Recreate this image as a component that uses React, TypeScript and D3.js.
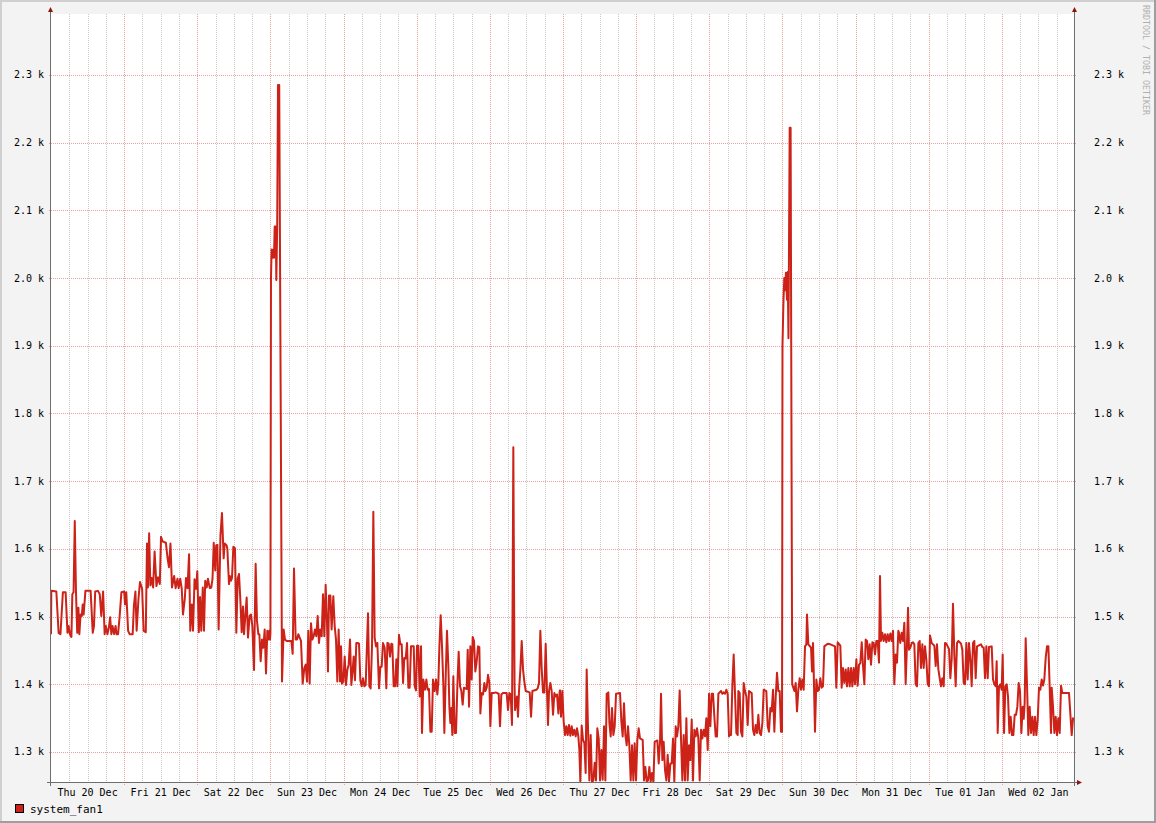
import React from 'react';
import * as d3 from 'd3';

const START = new Date(2018, 11, 20, 0, 0, 0);
const END = new Date(2019, 0, 3, 0, 0, 0);
const Y_MIN = 1254.2;
const Y_MAX = 2390;
const Y_TICKS = [1300, 1400, 1500, 1600, 1700, 1800, 1900, 2000, 2100, 2200, 2300];
const SERIES_NAME = 'system_fan1';
const WATERMARK = 'RRDTOOL / TOBI OETIKER';

// hours since Thu 20 Dec 00:00
const HOURS = [
  0, 0.1, 1.75, 2.5, 3.1, 3.9, 4.8, 5.4, 5.8, 6.2, 6.7, 7.0, 7.4, 7.8, 8.2, 8.6, 9.0, 9.3, 9.7, 10.1,
  10.4, 10.7, 11.3, 13.0, 13.7, 14.1, 14.5, 15.4, 16.0, 16.5, 17.1, 17.6, 18.0, 18.5, 19.0, 19.4, 19.8, 20.2, 20.7, 21.2,
  21.5, 22.0, 22.5, 23.1, 24.0, 24.3, 24.7, 25.3, 25.8, 26.8, 27.2, 27.7, 28.1, 28.7, 29.2, 29.9, 30.4, 31.1, 31.5, 31.8,
  32.2, 32.6, 33.0, 33.5, 34.0, 34.6, 35.1, 35.7, 36.1, 36.6, 37.7, 38.2, 38.7, 39.2, 39.7, 40.4, 40.9, 41.5, 41.9, 42.4,
  42.9, 43.3, 43.9, 44.3, 44.8, 45.3, 45.7, 46.2, 46.6, 47.1, 47.6, 48.0, 48.5, 48.9, 49.3, 49.8, 50.2, 50.6, 51.1, 51.5,
  52.1, 52.6, 53.0, 53.4, 53.9, 54.2, 54.6, 55.0, 55.6, 56.1,
  56.65, 56.98, 57.64, 57.86, 58.4, 58.7, 59.06, 59.39, 59.83, 60.37, 60.81, 61.25, 61.69, 62.12, 62.56, 63.0, 63.33, 63.76, 64.2, 64.64,
  65.19, 65.62, 66.06, 66.61, 67.15, 67.59, 68.03, 68.36, 68.8, 69.23, 69.67, 70.11, 70.55, 70.98, 71.31, 71.64, 71.86, 72.0, 72.19, 72.38,
  72.68, 72.94, 73.17, 73.4, 73.73, 73.93, 74.22, 74.49, 74.88, 75.8, 76.34, 76.78, 77.33, 78.86, 79.3, 79.73, 80.28, 80.72, 81.15, 81.59,
  82.03, 82.58, 83.12, 83.56, 84.0, 84.44, 84.87, 85.31, 85.75, 86.19, 86.62, 87.06, 87.5, 87.94, 88.37, 88.81, 89.25, 89.69, 90.12, 90.56,
  90.89, 91.22, 91.66, 92.09, 92.64, 93.08, 93.52, 93.95, 94.39, 94.83, 95.16, 95.49, 95.92, 96.36, 96.8, 97.23, 97.67, 98.11, 98.55, 98.98,
  99.31, 99.75, 100.19, 100.62, 101.06, 101.5, 101.94, 102.37, 102.81, 103.25, 104.01, 104.45, 104.89, 105.33, 105.77, 106.2, 106.64, 107.08, 107.63, 108.06,
  108.5, 108.94, 109.48, 110.03, 110.36, 110.8, 111.24,
  111.68, 112.0, 112.44, 112.88, 113.32, 113.65, 114.19, 114.63, 115.07, 115.51, 115.94, 116.38, 116.82, 117.26, 117.69, 118.13, 119.01, 119.33, 119.77, 120.1,
  120.54, 120.98, 121.41, 121.74, 122.18, 122.73, 123.16, 123.6, 124.04, 124.48, 124.91, 125.35, 125.9, 126.33, 126.77, 127.1, 127.43, 127.87, 128.3, 128.74,
  129.07, 129.51, 129.94, 130.38, 130.71, 131.04, 131.37, 131.69, 132.02, 132.46, 132.9, 133.34, 133.77, 134.21, 134.65, 135.09, 135.52, 136.4, 136.73, 137.16,
  137.6, 138.04, 138.37, 138.8, 139.24, 139.68, 140.12, 140.55, 140.88, 141.32, 141.76, 142.2, 142.52, 142.96, 143.4, 143.84, 144.17, 144.6, 145.26, 145.91,
  146.9, 147.34, 147.77, 148.21, 149.52, 149.96, 150.4, 150.84, 151.27, 151.7, 152.1, 152.26, 152.91, 153.24, 153.57, 154.01, 154.45, 154.88, 155.32, 155.76,
  157.07, 157.51, 157.95, 159.26, 159.7, 160.13, 160.57, 161.01, 161.45, 161.88, 162.32, 162.76, 163.09, 163.41, 163.85, 164.29, 164.73, 165.16, 165.6, 166.04,
  166.48, 166.91,
  167.02, 167.35, 167.79, 168.22, 168.66, 169.1, 169.54, 169.97, 170.41, 170.85, 171.29, 171.72, 172.16, 172.6, 173.04, 173.36, 173.69, 174.13, 174.57, 175.01,
  175.44, 175.77, 176.21, 176.65, 177.08, 177.52, 177.96, 178.4, 178.83, 179.27, 179.71, 180.15, 180.58, 181.02, 181.46, 181.9, 182.33, 182.88, 183.21, 183.65,
  184.08, 184.52, 184.96, 185.4, 186.71, 187.15, 187.58, 188.02, 188.46, 188.9, 189.33, 189.77, 190.21, 190.65, 191.08, 191.52, 191.96, 192.4, 192.83, 193.27,
  194.15, 194.58, 195.02, 195.46, 195.9, 196.33, 196.77, 197.21, 197.65, 198.08, 198.96, 199.4, 199.83, 200.16, 200.6, 201.04, 201.48, 201.91, 202.35, 202.79,
  203.23, 203.66, 204.1, 204.54, 204.98, 205.41, 205.85, 206.29, 206.73, 207.16, 207.6, 208.04, 208.48, 208.91, 209.35, 209.79, 210.23, 210.66, 211.1, 211.54,
  211.98, 212.41, 212.85, 213.29, 213.73, 214.16, 214.6, 215.04, 215.48, 215.91, 216.35, 216.79, 217.23, 217.66, 218.1, 218.54, 218.98, 219.41, 219.85, 220.29,
  220.73, 221.16, 221.6, 222.04, 222.48,
  222.69, 223.13, 223.57, 224.0, 224.44, 224.88, 225.32, 225.54, 225.97, 226.41, 226.85, 227.29, 227.72, 228.16, 228.6, 229.04, 229.91, 230.35, 230.79, 231.22,
  231.66, 232.1, 232.54, 232.97, 233.41, 233.85, 234.72, 235.16, 235.6, 236.04, 236.47, 236.91, 237.35, 237.79, 238.22, 238.66, 239.1, 239.54, 239.86, 240.02,
  240.35, 240.62, 240.91, 241.17, 241.5, 241.73, 241.99, 242.39, 242.68, 243.2, 243.57, 243.91, 244.35, 244.79, 245.22, 245.66, 246.1, 246.54, 246.97, 247.41,
  247.85, 248.07, 248.5, 249.38, 249.71, 250.04, 250.25, 250.69, 251.13, 251.57, 252.0, 252.44, 252.88, 253.32, 253.75, 254.85, 255.73, 257.25, 257.69, 258.13,
  259.0, 259.44, 259.88, 260.32, 260.76, 261.19, 261.63, 262.07, 262.51, 262.94, 263.38, 263.82, 264.26, 264.69, 265.13, 265.57, 266.01, 266.44, 266.88, 267.32,
  267.76, 268.19, 268.63, 269.07, 269.51, 269.94, 270.38, 270.82, 271.26, 271.69, 272.02, 272.35, 272.79, 273.22, 273.66, 274.1, 274.54, 274.97, 275.41, 275.85,
  276.29, 276.72, 277.16, 277.6, 278.04,
  278.25, 278.69, 279.13, 279.57, 280.0, 280.44, 280.88, 281.21, 281.53, 281.97, 282.41, 282.85, 283.28, 283.72, 284.16, 284.6, 285.03, 285.47, 285.91, 286.35,
  286.78, 287.22, 287.66, 288.1, 288.42, 288.97, 289.41, 289.85, 290.28, 290.72, 291.16, 291.6, 292.03, 292.47, 292.91, 293.35, 293.78, 294.22, 294.66, 295.1,
  295.53, 295.97, 296.41, 296.85, 297.28, 297.72, 298.16, 298.6, 299.03, 299.47, 299.91, 300.35, 300.78, 301.22, 301.66, 302.1, 302.53, 302.97, 303.41, 303.85,
  305.16, 305.6, 306.04, 306.47, 306.91, 307.35, 307.79, 308.66, 309.1, 309.54, 309.97, 310.3, 310.63, 311.07, 311.5, 311.94, 312.27, 312.71, 313.15, 313.58,
  314.02, 314.46, 314.9, 315.33, 315.77, 316.21, 316.65, 317.08, 317.52, 317.96, 318.4, 318.83, 319.16, 319.49, 319.82, 320.26, 320.69, 321.13, 321.57, 322.01,
  322.44, 322.88, 323.32, 323.76, 324.19, 324.63, 325.07, 325.51, 325.94, 326.38, 326.82, 327.26, 327.69, 328.13, 328.35, 328.79, 329.23, 329.66, 330.1, 330.54,
  330.98, 331.41, 331.85, 334.04, 334.47, 334.91, 335.35, 335.79, 336,
];

// fan speed (rpm)
const FAN_RPM = [
  1474, 1538, 1537, 1476, 1474, 1536, 1536, 1476, 1486, 1474, 1470, 1533, 1536, 1641, 1536, 1476, 1513, 1474, 1503, 1501,
  1518, 1503, 1538, 1538, 1476, 1486, 1537, 1538, 1533, 1501, 1537, 1474, 1486, 1474, 1484, 1499, 1474, 1486, 1474, 1486,
  1474, 1474, 1499, 1536, 1537, 1518, 1536, 1479, 1474, 1474, 1516, 1537, 1479, 1526, 1551, 1541, 1479, 1477, 1608, 1543,
  1623, 1546, 1557, 1543, 1596, 1545, 1558, 1548, 1618, 1611, 1609, 1588, 1573, 1608, 1543, 1560, 1542, 1556, 1542, 1556,
  1541, 1503, 1526, 1557, 1542, 1592, 1479, 1518, 1479, 1555, 1541, 1567, 1477, 1529, 1479, 1543, 1479, 1553, 1543, 1556,
  1542, 1543, 1556, 1609, 1568, 1605, 1606, 1481, 1620, 1653,
  1586, 1608, 1605, 1600, 1548, 1560, 1553, 1557, 1603, 1601, 1476, 1556, 1563, 1526, 1477, 1515, 1474, 1501, 1528, 1469,
  1501, 1503, 1486, 1421, 1578, 1494, 1474, 1474, 1434, 1466, 1454, 1481, 1416, 1479, 1466, 1479, 1466, 1476, 2000, 2042,
  2030, 2042, 2030, 2076, 2076, 1997, 2076, 2285, 2285, 1404, 1481, 1466, 1464, 1464, 1445, 1571, 1466, 1466, 1474, 1469,
  1464, 1401, 1424, 1429, 1404, 1479, 1401, 1490, 1466, 1471, 1481, 1471, 1501, 1461, 1481, 1471, 1533, 1471, 1547, 1491,
  1419, 1531, 1531, 1481, 1530, 1486, 1466, 1404, 1481, 1404, 1456, 1401, 1404, 1441, 1399, 1421, 1429, 1466, 1399, 1421,
  1441, 1406, 1461, 1461, 1460, 1406, 1397, 1409, 1397, 1399, 1505, 1397, 1394, 1456, 1655, 1469, 1456, 1461, 1394, 1426,
  1426, 1461, 1454, 1394, 1461, 1460, 1441,
  1460, 1459, 1397, 1397, 1437, 1397, 1473, 1459, 1459, 1402, 1439, 1438, 1461, 1395, 1395, 1456, 1456, 1397, 1391, 1457,
  1457, 1382, 1456, 1328, 1407, 1392, 1407, 1392, 1393, 1330, 1330, 1407, 1390, 1407, 1385, 1402, 1455, 1502, 1456, 1400,
  1328, 1412, 1479, 1427, 1367, 1343, 1365, 1325, 1412, 1328, 1328, 1397, 1448, 1397, 1390, 1370, 1395, 1393, 1451, 1367,
  1456, 1407, 1470, 1464, 1419, 1434, 1456, 1455, 1357, 1387, 1385, 1402, 1390, 1395, 1414, 1402, 1338, 1387, 1387, 1388,
  1386, 1338, 1385, 1387, 1387, 1362, 1387, 1385, 1340, 1750, 1400, 1362, 1382, 1352, 1390, 1422, 1464, 1422, 1404, 1390,
  1388, 1352, 1390, 1392, 1394, 1402, 1479, 1422, 1388, 1388, 1460, 1387, 1340, 1390, 1402, 1390, 1355, 1387, 1382, 1385,
  1357, 1390,
  1391, 1352, 1390, 1345, 1325, 1338, 1325, 1340, 1324, 1338, 1325, 1333, 1323, 1335, 1323, 1303, 1257, 1339, 1318, 1313,
  1269, 1422, 1333, 1258, 1325, 1256, 1258, 1284, 1258, 1335, 1320, 1258, 1303, 1259, 1338, 1258, 1386, 1388, 1343, 1323,
  1365, 1325, 1338, 1386, 1387, 1345, 1323, 1372, 1325, 1310, 1338, 1310, 1258, 1310, 1258, 1313, 1258, 1318, 1335, 1320,
  1318, 1258, 1278, 1256, 1258, 1278, 1256, 1269, 1256, 1315, 1317, 1283, 1315, 1386, 1288, 1315, 1273, 1258, 1296, 1256,
  1283, 1283, 1320, 1256, 1338, 1323, 1338, 1391, 1318, 1258, 1325, 1258, 1350, 1258, 1310, 1288, 1348, 1258, 1333, 1323,
  1335, 1320, 1258, 1333, 1320, 1333, 1323, 1350, 1303, 1386, 1338, 1386, 1386, 1352, 1323, 1323, 1386, 1388, 1390, 1386,
  1388, 1386, 1392, 1386, 1323,
  1325, 1325, 1397, 1444, 1387, 1328, 1325, 1390, 1387, 1330, 1323, 1402, 1390, 1382, 1340, 1390, 1387, 1333, 1325, 1340,
  1328, 1355, 1328, 1325, 1343, 1392, 1390, 1338, 1330, 1365, 1360, 1392, 1330, 1380, 1417, 1390, 1390, 1330, 1330, 1900,
  1968, 2000, 1982, 2008, 1968, 2009, 1911, 2222, 2222, 1400, 1395, 1390, 1402, 1360, 1392, 1409, 1392, 1407, 1392, 1456,
  1459, 1503, 1459, 1454, 1419, 1461, 1422, 1330, 1407, 1390, 1392, 1409, 1395, 1397, 1456, 1460, 1459, 1456, 1395, 1462,
  1457, 1395, 1424, 1402, 1422, 1397, 1424, 1397, 1424, 1397, 1424, 1400, 1437, 1398, 1429, 1431, 1462, 1428, 1400, 1466,
  1464, 1437, 1459, 1429, 1462, 1461, 1444, 1464, 1464, 1432, 1560, 1464, 1476, 1464, 1474, 1462, 1474, 1464, 1475, 1464,
  1479, 1400, 1444, 1432, 1479,
  1476, 1461, 1476, 1464, 1491, 1400, 1461, 1513, 1451, 1454, 1461, 1462, 1459, 1400, 1397, 1461, 1464, 1424, 1459, 1424,
  1456, 1437, 1400, 1397, 1472, 1461, 1459, 1457, 1427, 1459, 1422, 1409, 1397, 1409, 1397, 1461, 1460, 1456, 1452, 1409,
  1437, 1519, 1442, 1397, 1461, 1464, 1462, 1460, 1451, 1402, 1400, 1461, 1407, 1461, 1437, 1397, 1461, 1464, 1409, 1456,
  1459, 1455, 1454, 1409, 1456, 1409, 1455, 1456, 1407, 1400, 1397, 1434, 1328, 1397, 1400, 1392, 1444, 1328, 1397, 1400,
  1382, 1328, 1352, 1325, 1325, 1355, 1355, 1367, 1402, 1390, 1328, 1367, 1349, 1372, 1468, 1397, 1325, 1367, 1328, 1352,
  1325, 1352, 1325, 1348, 1395, 1392, 1407, 1398, 1407, 1439, 1456, 1456, 1397, 1328, 1395, 1367, 1328, 1352, 1325, 1350,
  1328, 1398, 1387, 1387, 1357, 1325, 1350, 1348, 1348,
];

const FONT = '"DejaVu Sans Mono", "Liberation Mono", monospace';

export default function App() {
  const W = 1156;
  const H = 823;
  const left = 51;
  const right = 1075;
  const top = 14;
  const bottom = 783;

  const x = d3.scaleTime().domain([START, END]).range([left, right]);
  const y = d3.scaleLinear().domain([Y_MIN, Y_MAX]).range([bottom, top]);

  const data = HOURS.map((h, i) => ({ t: d3.timeMinute.offset(START, Math.round(h * 60)), v: FAN_RPM[i] }));
  const n = Math.min(HOURS.length, FAN_RPM.length);
  const pts = data.slice(0, n);

  const line = d3
    .line<{ t: Date; v: number }>()
    .x((d) => x(d.t))
    .y((d) => y(d.v));

  const days = d3.timeDay.range(START, END);
  const minor = d3.timeHour.every(6)!.range(START, END).filter((d) => d.getHours() !== 0);
  const fmt = d3.timeFormat('%a %d %b');
  const px = (v: number) => Math.round(v) + 0.5;

  const axisColor = '#6f6f6f';
  const arrowColor = '#8a1414';
  const lineColor = '#CC2218';

  return (
    <svg
      width={W}
      height={H}
      viewBox={`0 0 ${W} ${H}`}
      style={{ position: 'absolute', left: 0, top: 0, display: 'block' }}
    >
      <rect x={0} y={0} width={W} height={H} fill="#F3F3F3" />
      {/* frame */}
      <line x1={0} y1={1} x2={W} y2={1} stroke="#CFCFCF" strokeWidth={2} />
      <line x1={1} y1={0} x2={1} y2={H} stroke="#CFCFCF" strokeWidth={2} />
      <line x1={0} y1={H - 1} x2={W} y2={H - 1} stroke="#9E9E9E" strokeWidth={2} />
      <line x1={W - 1} y1={0} x2={W - 1} y2={H} stroke="#9E9E9E" strokeWidth={2} />

      {/* canvas */}
      <rect x={left} y={top} width={right - left} height={bottom - top} fill="#FFFFFF" />

      {/* minor vertical grid */}
      {minor.map((d, i) => (
        <line
          key={'mi' + i}
          x1={px(x(d))}
          x2={px(x(d))}
          y1={top}
          y2={bottom}
          stroke="#C8C8C8"
          strokeWidth={1}
          strokeDasharray="1,1"
        />
      ))}
      {/* major vertical grid */}
      {days.slice(1).map((d, i) => (
        <line
          key={'ma' + i}
          x1={px(x(d))}
          x2={px(x(d))}
          y1={top}
          y2={bottom + 3}
          stroke="#E8A0A0"
          strokeWidth={1}
          strokeDasharray="1,1"
        />
      ))}
      {/* horizontal major grid */}
      {Y_TICKS.map((v) => (
        <line
          key={'h' + v}
          x1={left - 2}
          x2={right + 2}
          y1={px(y(v))}
          y2={px(y(v))}
          stroke="#E8A0A0"
          strokeWidth={1}
          strokeDasharray="1,1"
        />
      ))}

      {/* data line */}
      <path d={line(pts) || ''} fill="none" stroke={lineColor} strokeWidth={2} strokeLinejoin="round" />

      {/* axes */}
      <line x1={px(left) - 1} x2={px(left) - 1} y1={10} y2={bottom + 3} stroke={axisColor} strokeWidth={1} />
      <line x1={px(right) - 1} x2={px(right) - 1} y1={10} y2={bottom + 3} stroke={axisColor} strokeWidth={1} />
      <line x1={left - 4} x2={right + 4} y1={px(bottom) - 1} y2={px(bottom) - 1} stroke={axisColor} strokeWidth={1} />
      <path d={`M${left - 3},12 L${left + 2},12 L${left - 0.5},7 Z`} fill={arrowColor} />
      <path d={`M${right - 3},12 L${right + 2},12 L${right - 0.5},7 Z`} fill={arrowColor} />
      <path d={`M${right + 2},${bottom - 3} L${right + 2},${bottom + 2} L${right + 7},${bottom - 0.5} Z`} fill={arrowColor} />

      {/* y labels */}
      {Y_TICKS.map((v) => (
        <g key={'yl' + v} fontFamily={FONT} fontSize={10} fill="#000">
          <text x={44} y={y(v)} dy="0.35em" textAnchor="end">
            {(v / 1000).toFixed(1) + ' k'}
          </text>
          <text x={1094} y={y(v)} dy="0.35em" textAnchor="start">
            {(v / 1000).toFixed(1) + ' k'}
          </text>
        </g>
      ))}

      {/* x labels */}
      {days.map((d, i) => (
        <text
          key={'xl' + i}
          x={x(d3.timeHour.offset(d, 12))}
          y={796}
          textAnchor="middle"
          fontFamily={FONT}
          fontSize={10}
          fill="#000"
        >
          {fmt(d)}
        </text>
      ))}

      {/* legend */}
      <rect x={15.5} y={804.5} width={8} height={8} fill={lineColor} stroke="#000" strokeWidth={1} />
      <text x={30} y={813} fontFamily={FONT} fontSize={11} fill="#000">
        {SERIES_NAME}
      </text>

      {/* watermark */}
      <text
        transform="translate(1143,5) rotate(90)"
        fontFamily={FONT}
        fontSize={8.3}
        fill="#B0B0B0"
      >
        {WATERMARK}
      </text>
    </svg>
  );
}
